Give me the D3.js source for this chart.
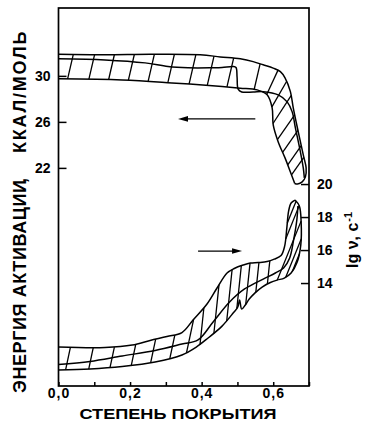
<!DOCTYPE html>
<html>
<head>
<meta charset="utf-8">
<script src="https://cdn.jsdelivr.net/npm/d3@7"></script>
<style>
  body { margin: 0; background: #fff; }
  svg text { font-family: "Liberation Sans", Arial, sans-serif; font-weight: bold; fill: #000; }
</style>
</head>
<body>
<svg id="chart" width="370" height="429"></svg>
<script>
// coverage vs activation energy (kcal/mol, left axis) — hatched band, three boundary curves
const energyTop = [[0, 31.87], [0.13, 31.83], [0.256, 31.87], [0.396, 31.83], [0.452, 31.65], [0.508, 31.48],
  [0.544, 31.24], [0.572, 30.96], [0.6, 30.67], [0.62, 30.37], [0.633, 29.83], [0.648, 28.63], [0.656, 27.22],
  [0.67, 25.13], [0.684, 23.13], [0.692, 22.0], [0.69, 21.22], [0.681, 20.78], [0.668, 20.6], [0.66, 20.65]];
const energyMid = [[0, 31.48], [0.13, 31.39], [0.242, 31.13], [0.306, 30.81], [0.362, 30.7], [0.429, 30.7],
  [0.457, 30.72], [0.488, 30.81], [0.496, 30.72], [0.499, 29.9], [0.502, 28.85], [0.512, 28.6], [0.544, 28.6],
  [0.572, 28.63], [0.614, 28.35], [0.639, 27.74], [0.653, 26.87], [0.662, 25.48], [0.676, 23.39], [0.684, 22.0],
  [0.687, 21.13]];
const energyBot = [[0, 29.74], [0.178, 29.65], [0.317, 29.39], [0.457, 29.07], [0.508, 28.93], [0.555, 28.78],
  [0.583, 28.35], [0.597, 27.22], [0.6, 25.74], [0.614, 24.26], [0.633, 22.87], [0.648, 21.65], [0.657, 20.9],
  [0.66, 20.65]];

// coverage vs lg nu (right axis)
const rateTop = [[0, 10.12], [0.13, 10.09], [0.206, 10.24], [0.256, 10.52], [0.303, 10.76], [0.345, 11.0],
  [0.376, 11.76], [0.415, 12.73], [0.443, 13.7], [0.471, 14.61], [0.491, 14.88], [0.516, 15.09], [0.536, 15.21],
  [0.558, 15.24], [0.583, 15.3], [0.603, 15.45], [0.622, 15.67], [0.632, 16.24], [0.638, 17.33], [0.643, 18.36],
  [0.65, 18.85], [0.661, 19.03]];
const rateMid = [[0, 9.06], [0.088, 9.25], [0.178, 9.58], [0.27, 9.91], [0.345, 10.3], [0.39, 10.55],
  [0.432, 11.64], [0.478, 12.85], [0.52, 13.64], [0.572, 14.24], [0.606, 14.61], [0.629, 14.91], [0.646, 15.52],
  [0.657, 16.61], [0.666, 17.82], [0.669, 18.67]];
const rateBot = [[0, 8.73], [0.088, 8.79], [0.178, 8.94], [0.27, 9.21], [0.345, 9.64], [0.385, 10.12],
  [0.418, 10.67], [0.457, 11.39], [0.488, 12.18], [0.501, 12.55], [0.506, 12.97], [0.512, 12.42], [0.522, 12.67],
  [0.533, 13.03], [0.55, 13.42], [0.569, 13.76], [0.592, 14.03], [0.611, 14.18], [0.631, 14.3], [0.65, 14.61],
  [0.667, 15.27], [0.677, 16.3], [0.678, 17.7], [0.673, 18.67], [0.661, 19.03]];

const xTicks = [0, 0.1, 0.2, 0.3, 0.4, 0.5, 0.6, 0.7];
const xLabels = [0, 0.2, 0.4, 0.6];
const energyTicks = [22, 26, 30];
const rateTicks = [14, 16, 18, 20];

// hatch anchors: fraction along a boundary curve + tilt of the stroke (deg)
const energyHatch = [0.03, 0.10, 0.165, 0.23, 0.295, 0.36, 0.43, 0.49, 0.555, 0.645].map(t => ({ t, tilt: 77 }))
  .concat([{ t: 0.69, tilt: 65 }, { t: 0.735, tilt: 60 }, { t: 0.79, tilt: 57 }, { t: 0.845, tilt: 55 },
    { t: 0.89, tilt: 55 }, { t: 0.935, tilt: 55 }, { t: 0.97, tilt: 55 }]);
const rateHatch = [0.02, 0.085, 0.145, 0.205, 0.26, 0.315, 0.365].map(t => ({ t, tilt: 78 }))
  .concat([0.41, 0.46, 0.51, 0.555, 0.625, 0.67, 0.71].map(t => ({ t, tilt: 84 })))
  .concat([{ t: 0.74, tilt: 68 }, { t: 0.765, tilt: 68 }, { t: 0.79, tilt: 68 },
    { t: 0.87, tilt: 68, from: "top" }, { t: 0.92, tilt: 68, from: "top" }]);

const frame = { left: 58.5, right: 309, top: 8, bottom: 386 };
const svg = d3.select("#chart");

const x = d3.scaleLinear().domain([0, 0.7]).range([frame.left, frame.right]);
const yEnergy = d3.scaleLinear().domain([3.04, 35.9]).range([frame.bottom, frame.top]);
const yRate = d3.scaleLinear().domain([7.76, 30.67]).range([frame.bottom, frame.top]);

function drawBand(top, mid, bot, y, hatches) {
  const line = d3.line()
    .x(d => x(d[0]))
    .y(d => y(d[1]))
    .curve(d3.curveCatmullRom.alpha(0.5));

  const g = svg.append("g")
    .attr("fill", "none")
    .attr("stroke", "#000")
    .attr("stroke-width", 1.5)
    .attr("stroke-linejoin", "round");

  const [topP, , botP] = [top, mid, bot].map(d => g.append("path").attr("d", line(d)).node());

  const sample = p => {
    const L = p.getTotalLength();
    return d3.range(0, 601).map(i => p.getPointAtLength(L * i / 600));
  };
  const targets = [sample(topP), sample(botP)];

  hatches.forEach(h => {
    const src = h.from === "top" ? topP : botP;
    const p = src.getPointAtLength(src.getTotalLength() * h.t);
    const a = h.tilt * Math.PI / 180;
    const dx = Math.cos(a), dy = -Math.sin(a);
    let best = Infinity;
    targets.forEach(pts => {
      for (let i = 1; i < pts.length; i++) {
        const ex = pts[i].x - pts[i - 1].x, ey = pts[i].y - pts[i - 1].y;
        const den = dx * ey - dy * ex;
        if (Math.abs(den) < 1e-9) continue;
        const wx = pts[i - 1].x - p.x, wy = pts[i - 1].y - p.y;
        const s = (wx * ey - wy * ex) / den;
        const u = (wx * dy - wy * dx) / den;
        if (u >= 0 && u <= 1 && s > 4 && s < best) best = s;
      }
    });
    if (best < 90) {
      g.append("line")
        .attr("x1", p.x).attr("y1", p.y)
        .attr("x2", p.x + best * dx).attr("y2", p.y + best * dy)
        .attr("stroke-width", 1.3);
    }
  });
}

drawBand(energyTop, energyMid, energyBot, yEnergy, energyHatch);
drawBand(rateTop, rateMid, rateBot, yRate, rateHatch);

// frame
svg.append("rect")
  .attr("x", frame.left).attr("y", frame.top)
  .attr("width", frame.right - frame.left).attr("height", frame.bottom - frame.top)
  .attr("fill", "none").attr("stroke", "#000").attr("stroke-width", 1.7);

// axes, ticks pointing inward
const fmtX = d => xLabels.includes(d) ? d3.format(".1f")(d).replace(".", ",") : "";

const gx = svg.append("g")
  .attr("transform", `translate(0,${frame.bottom})`)
  .call(d3.axisBottom(x).tickValues(xTicks).tickFormat(fmtX).tickSize(-4).tickPadding(2.5));
const gl = svg.append("g")
  .attr("transform", `translate(${frame.left},0)`)
  .call(d3.axisLeft(yEnergy).tickValues(energyTicks).tickSize(-8).tickPadding(8));
const gr = svg.append("g")
  .attr("transform", `translate(${frame.right},0)`)
  .call(d3.axisRight(yRate).tickValues(rateTicks).tickSize(-8).tickPadding(8));

[gx, gl, gr].forEach(g => {
  g.select(".domain").remove();
  g.selectAll(".tick line").attr("stroke", "#000").attr("stroke-width", 1.5);
  g.selectAll(".tick text").attr("fill", "#000")
    .style("font-family", '"Liberation Sans", Arial, sans-serif')
    .style("font-weight", "bold")
    .style("font-size", "14px");
});
gx.selectAll(".tick text").style("letter-spacing", "1px");

// arrows
const arrows = [
  { from: [0.55, 26.26], to: [0.334, 26.26], y: yEnergy },
  { from: [0.39, 15.94], to: [0.513, 15.94], y: yRate }
];
arrows.forEach(a => {
  const x1 = x(a.from[0]), x2 = x(a.to[0]), y0 = a.y(a.from[1]);
  const dir = Math.sign(x2 - x1);
  svg.append("line")
    .attr("x1", x1).attr("y1", y0).attr("x2", x2 - dir * 6).attr("y2", y0)
    .attr("stroke", "#000").attr("stroke-width", 1.3);
  svg.append("path")
    .attr("d", `M${x2},${y0} L${x2 - dir * 10},${y0 - 2.8} L${x2 - dir * 10},${y0 + 2.8} Z`)
    .attr("fill", "#000");
});

// axis titles
svg.append("text")
  .attr("x", 178).attr("y", 419)
  .attr("text-anchor", "middle")
  .attr("textLength", 197).attr("lengthAdjust", "spacingAndGlyphs")
  .style("font-size", "15px")
  .text("СТЕПЕНЬ ПОКРЫТИЯ");

svg.append("text")
  .attr("transform", "translate(25.5,393) rotate(-90)")
  .style("font-size", "18px")
  .style("letter-spacing", "0.6px")
  .text("ЭНЕРГИЯ АКТИВАЦИИ");
svg.append("text")
  .attr("transform", "translate(26,183) rotate(-90)")
  .style("font-size", "18px")
  .text(",");
svg.append("text")
  .attr("transform", "translate(25.5,153) rotate(-90)")
  .style("font-size", "18px")
  .style("letter-spacing", "1.8px")
  .text("ККАЛ/МОЛЬ");

const rt = svg.append("text")
  .attr("transform", "translate(358,268) rotate(-90)")
  .style("font-size", "16px");
rt.append("tspan").text("lg ν, c");
rt.append("tspan").attr("dy", -6).attr("dx", 1).style("font-size", "11px").text("-1");
</script>
</body>
</html>
